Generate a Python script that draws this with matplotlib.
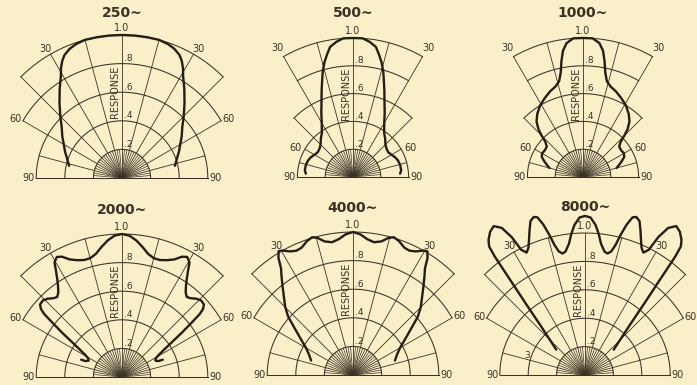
import numpy as np
import matplotlib.pyplot as plt

# directional response, left half of each pattern (deg from axis, response)
titles = ['250~', '500~', '1000~', '2000~', '4000~', '8000~']

ang_250 = [0, 5, 10, 15, 19, 22, 25, 27, 29, 31, 35, 40, 45, 50, 55, 60, 65, 70, 77]
resp_250 = [1.0, 1.0, 1.0, 1.0, 0.99, 0.975, 0.95, 0.92, 0.88, 0.83, 0.76, 0.68, 0.61, 0.55, 0.51, 0.47, 0.44, 0.41, 0.38]

ang_500 = [0, 4, 7, 10, 12, 14, 16, 18, 20, 23, 26, 30, 35, 40, 45, 50, 55, 60, 65, 70, 76, 82, 86]
resp_500 = [1.0, 1.0, 0.98, 0.95, 0.9, 0.85, 0.79, 0.72, 0.66, 0.58, 0.52, 0.45, 0.39, 0.36, 0.33, 0.315, 0.31, 0.32, 0.335, 0.345, 0.35, 0.35, 0.34]

ang_1000 = [0, 4, 7, 9, 10.5, 12, 14, 17, 21, 26, 31, 36, 40, 43, 45, 47, 50, 55, 60, 64, 68, 72, 75]
resp_1000 = [1.0, 1.0, 0.97, 0.92, 0.85, 0.77, 0.71, 0.68, 0.66, 0.63, 0.6, 0.56, 0.52, 0.47, 0.42, 0.37, 0.34, 0.335, 0.34, 0.33, 0.3, 0.27, 0.25]

ang_2000 = [0, 3, 6, 9, 12, 15, 18, 21, 24, 26.5, 28.5, 30.5, 32, 33.5, 35, 37, 39, 41, 43.5, 46, 48.5,
            50, 51, 52, 53.5, 55, 57, 59, 61, 64, 66.5, 67]
resp_2000 = [1.0, 0.99, 0.96, 0.92, 0.88, 0.86, 0.86, 0.875, 0.9, 0.94, 0.955, 0.93, 0.87, 0.82, 0.78, 0.74, 0.72, 0.73, 0.755, 0.77, 0.765,
             0.74, 0.7, 0.62, 0.52, 0.43, 0.35, 0.3, 0.27, 0.26, 0.28, 0.31]

ang_4000 = [0, 3, 6, 9, 12, 14.5, 16.5, 19, 22, 24.5, 27, 29.5, 31, 32.5, 34, 36, 39, 42, 45, 48, 51, 55, 60, 65, 71]
resp_4000 = [1.0, 0.985, 0.955, 0.94, 0.955, 0.99, 1.005, 0.99, 0.96, 0.955, 0.97, 1.0, 1.01, 0.97, 0.9, 0.85, 0.78, 0.72, 0.67, 0.61, 0.53, 0.45, 0.38, 0.34, 0.31]

ang_8000 = [0, 2, 4, 5.5, 7, 9, 10.5, 12, 13.2, 14.3, 15.5, 16.8, 18, 19.5, 21, 22.5, 24, 25.5, 27, 28, 29.5, 31.5,
            33.5, 35.5, 36.7, 37.3, 38.2, 39.6, 42.1, 45.3, 48.6]
resp_8000 = [1.12, 1.11, 1.06, 1.0, 0.93, 0.88, 0.87, 0.89, 0.94, 1.02, 1.1, 1.16, 1.17, 1.15, 1.09, 1.03, 0.98, 0.955, 0.99, 1.1, 1.19, 1.23,
             1.21, 1.17, 1.13, 1.05, 0.85, 0.66, 0.46, 0.34, 0.27]

# chart paper: (radius, half-angle the arc covers)
grid_wide = [(0.2, 90), (0.4, 90), (0.6, 90), (0.8, 60), (1.0, 45)]
grid_narrow = [(0.2, 90), (0.4, 90), (0.6, 45), (0.8, 30), (1.0, 30)]

panels = [
    (titles[0], ang_250, resp_250, grid_wide, (122, 178), 143, 1.155),
    (titles[1], ang_500, resp_500, grid_narrow, (353, 177), 139, 1.18),
    (titles[2], ang_1000, resp_1000, grid_narrow, (583, 177), 139, 1.18),
    (titles[3], ang_2000, resp_2000, grid_wide, (122, 377), 143, 1.17),
    (titles[4], ang_4000, resp_4000, grid_wide, (353, 375), 143, 1.17),
    (titles[5], ang_8000, resp_8000, grid_wide, (585, 375), 142, 1.185),
]

bg = '#f9efc9'
ink = '#3a3224'
W, H = 697, 385

fig = plt.figure(figsize=(W / 100, H / 100), dpi=100, facecolor=bg)


def xy(deg, r):
    t = np.radians(deg)
    return np.asarray(r) * np.sin(t), np.asarray(r) * np.cos(t)


def outer(grid, deg):
    return max(r for r, a in grid if abs(deg) <= a + 1e-6)


for title, ang, resp, grid, (cx, cy), R, ty in panels:
    ax = fig.add_axes([(cx - 1.35 * R) / W, (H - cy - 0.1 * R) / H, 2.7 * R / W, 1.5 * R / H])
    ax.set_xlim(-1.35, 1.35)
    ax.set_ylim(-0.1, 1.4)
    ax.axis('off')
    ax.patch.set_alpha(0)

    # arcs
    for r, a in grid:
        t = np.linspace(-a, a, 200)
        x, y = xy(t, r)
        ax.plot(x, y, color=ink, lw=0.75, clip_on=False)
    rb = outer(grid, 90)
    ax.plot([-rb, rb], [0, 0], color=ink, lw=0.75)

    # spokes
    for d in range(-90, 91, 15):
        x, y = xy(d, [0, outer(grid, d)])
        ax.plot(x, y, color=ink, lw=0.6, clip_on=False)
    for d in range(-85, 90, 5):
        if d % 15:
            x, y = xy(d, [0, 0.2])
            ax.plot(x, y, color=ink, lw=0.5)

    # labels
    fs = 7
    ax.text(0, 1.05, '1.0', ha='center', va='center', fontsize=fs, color=ink)
    for r in [0.8, 0.6, 0.4, 0.2]:
        ax.text(0.015, r + 0.035, ('%.1f' % r)[1:], ha='left', va='center', fontsize=fs - 0.5, color=ink)
    ax.text(-0.05, 0.6, 'RESPONSE', rotation=90, ha='center', va='center', fontsize=7, color=ink)
    if grid is grid_wide:
        p30, p60 = (0.535, 0.905), (0.70, 0.41)
    else:
        p30, p60 = (0.545, 0.93), (0.37, 0.21)
    for s in (-1, 1):
        ha = 'right' if s < 0 else 'left'
        ax.text(s * p30[0], p30[1], '30', ha='center', va='center', fontsize=fs, color=ink)
        ax.text(s * p60[0], p60[1], '60', ha=ha, va='center', fontsize=fs, color=ink)
        ax.text(s * (rb + 0.01), 0, '90', ha=ha, va='center', fontsize=fs, color=ink)

    ax.text(0, ty, title, ha='center', va='center', fontsize=10, fontweight='bold', color=ink)

    # response curve, mirrored about the axis
    a = np.asarray(ang, dtype=float)
    v = np.asarray(resp, dtype=float)
    full_a = np.concatenate([-a[::-1], a[1:]])
    full_v = np.concatenate([v[::-1], v[1:]])
    x, y = xy(full_a, full_v)
    ax.plot(x, y, color='#241e14', lw=1.7, solid_capstyle='round', clip_on=False)

    if title == '8000~':
        ax.text(-0.405, 0.14, '3', ha='center', va='center', fontsize=6.5, color=ink)

fig.savefig('out.png', dpi=100, facecolor=bg)
